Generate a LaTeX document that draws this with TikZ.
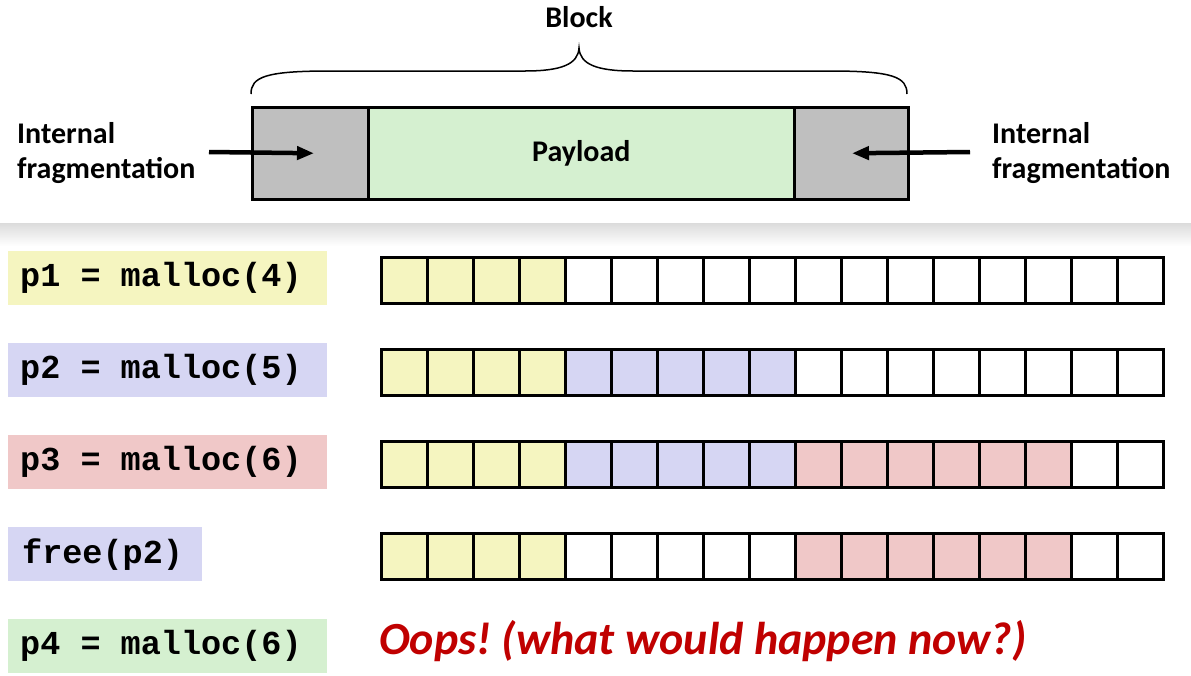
\documentclass[tikz,border=0pt]{standalone}
\usepackage{fontspec}
\setmainfont{Carlito}
\newfontfamily\monofnt{Liberation Mono}
\usetikzlibrary{arrows.meta}
\frenchspacing
\definecolor{cgray}{HTML}{BFBFBF}
\definecolor{cgreen}{HTML}{D5F0D0}
\definecolor{cyel}{HTML}{F5F5C0}
\definecolor{cblue}{HTML}{D6D6F3}
\definecolor{cred}{HTML}{F0C8C8}
\definecolor{ctxt}{HTML}{C00000}
\newcommand\msp{\char32\relax}
\tikzset{
  blk/.style={draw=black, line width=2.5pt, minimum height=92pt, inner sep=0pt, anchor=north west},
  btxt/.style={font=\fontsize{30}{36}\selectfont\bfseries, inner sep=0pt},
  ftxt/.style={font=\fontsize{30}{35}\selectfont\bfseries, align=left, inner sep=0pt, anchor=north west},
  farrow/.style={line width=4.5pt, -{Triangle[length=17pt,width=13pt]}},
  cell/.style={draw=black, line width=3pt, minimum width=46pt, minimum height=46pt, inner sep=0pt, anchor=north west},
  lbl/.style={font=\monofnt\fontsize{33.5}{36}\selectfont\bfseries, minimum height=54pt, inner xsep=12pt, inner ysep=0pt, anchor=north west, align=left},
}
\begin{document}
\begin{tikzpicture}[x=1pt,y=-1pt]
\useasboundingbox (0,0) rectangle (1191,675);
\fill[white] (0,0) rectangle (1191,675);
% shadow of top panel
\shade[top color=black!14, bottom color=white] (0,223) rectangle (1191,246);
\fill[white] (0,0) rectangle (1191,223);

% block
\node[blk, fill=cgray, minimum width=116pt] (lpad) at (251,106) {};
\node[blk, fill=cgreen, minimum width=426pt] (pay) at (367,106) {};
\node[blk, fill=cgray, minimum width=114pt] (rpad) at (793,106) {};
\node[btxt] (paytxt) at (pay.center) {Payload};
\node[btxt] (blocktxt) at (579,17) {Block};
% brace
\draw[line width=1.5pt] (251,94) .. controls (251,77) and (265,71) .. (330,71) -- (525,71)
  .. controls (562,71) and (578,64) .. (579,48)
  .. controls (580,64) and (596,71) .. (633,71) -- (830,71)
  .. controls (893,71) and (907,77) .. (907,94);
% fragmentation labels
\node[ftxt] (lfrag) at (17,122) {Internal\\fragmentation};
\node[ftxt] (rfrag) at (992,122) {Internal\\fragmentation};
\coordinate (la) at (209,152);
\coordinate (ra) at (970,152);
\draw[farrow] (la) -- (lpad.center -| 314,0);
\draw[farrow] (ra) -- (rpad.center -| 852,0);

% rows of cells
\foreach \c [count=\i from 0] in {cyel,cyel,cyel,cyel,white,white,white,white,white,white,white,white,white,white,white,white,white}
  \node[cell, fill=\c] (ra\i) at (380+46*\i,256) {};
\foreach \c [count=\i from 0] in {cyel,cyel,cyel,cyel,cblue,cblue,cblue,cblue,cblue,white,white,white,white,white,white,white,white}
  \node[cell, fill=\c] (rb\i) at (380+46*\i,348) {};
\foreach \c [count=\i from 0] in {cyel,cyel,cyel,cyel,cblue,cblue,cblue,cblue,cblue,cred,cred,cred,cred,cred,cred,white,white}
  \node[cell, fill=\c] (rc\i) at (380+46*\i,440) {};
\foreach \c [count=\i from 0] in {cyel,cyel,cyel,cyel,white,white,white,white,white,cred,cred,cred,cred,cred,cred,white,white}
  \node[cell, fill=\c] (rd\i) at (380+46*\i,532) {};

% code labels
\node[lbl, fill=cyel, text width=295pt] (l1) at (8,251) {p1\msp=\msp malloc(4)};
\node[lbl, fill=cblue, text width=295pt] (l2) at (8,343) {p2\msp=\msp malloc(5)};
\node[lbl, fill=cred, text width=295pt] (l3) at (8,435) {p3\msp=\msp malloc(6)};
\node[lbl, fill=cblue, inner xsep=14pt, text width=166pt] (l4) at (8,527) {free(p2)};
\node[lbl, fill=cgreen, text width=295pt] (l5) at (8,619) {p4\msp=\msp malloc(6)};

\node[font=\fontsize{46}{50}\selectfont\bfseries\itshape, text=ctxt, inner sep=0pt, anchor=west] (oops) at (379,641) {Oops! (what would happen now?)};
\end{tikzpicture}
\end{document}
